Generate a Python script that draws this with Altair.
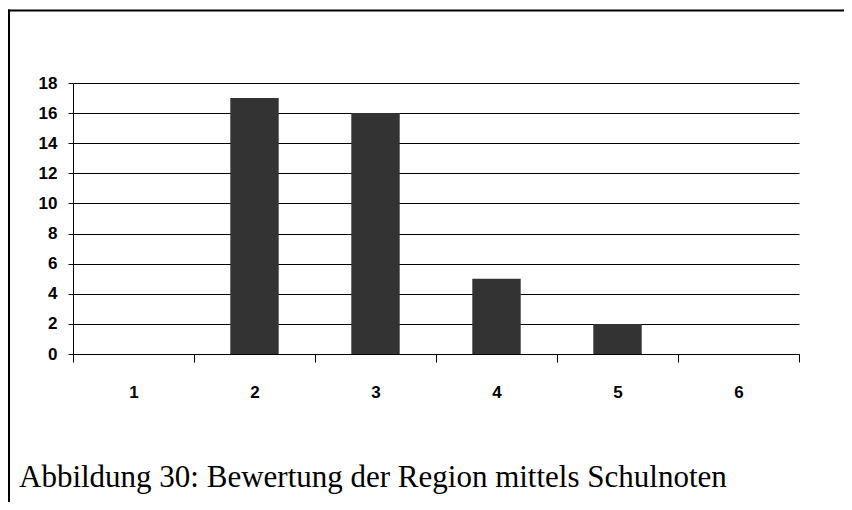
import altair as alt
import pandas as pd

grades = [1, 2, 3, 4, 5, 6]
counts = [0, 17, 16, 5, 2, 0]
caption = "Abbildung 30: Bewertung der Region mittels Schulnoten"

half = 0.2
df = pd.DataFrame({"note": grades, "anzahl": counts})
df["lo"] = df["note"] - half
df["hi"] = df["note"] + half
df["base"] = 0

tick_vals = [g - 0.5 for g in grades] + [grades[-1] + 0.5]

xscale = alt.Scale(domain=[grades[0] - 0.5, grades[-1] + 0.5], nice=False, zero=False)
W, H = 726, 271
step = W / len(grades)

bars = alt.Chart(df).mark_rect(color="#333333").encode(
    x=alt.X("lo:Q", scale=xscale, title=None,
            axis=alt.Axis(values=tick_vals, grid=False, domainColor="black", domainWidth=1,
                          tickColor="black", tickSize=8, tickWidth=1,
                          labelExpr="datum.value < 6 ? format(datum.value + 0.5, 'd') : ''",
                          labelOffset=step / 2, labelPadding=22, labelBaseline="top",
                          labelFont="Liberation Sans", labelFontWeight="bold",
                          labelFontSize=17, labelColor="black", labelFlush=False,
                          labelOverlap=False)),
    x2="hi:Q",
    y=alt.Y("anzahl:Q", scale=alt.Scale(domain=[0, 18], nice=False), title=None,
            axis=alt.Axis(values=list(range(0, 19, 2)), grid=True, gridColor="black",
                          gridWidth=1, gridOpacity=1, domainColor="black", domainWidth=1,
                          tickColor="black", tickSize=5, tickWidth=1, labelPadding=11,
                          labelFont="Liberation Sans", labelFontWeight="bold",
                          labelFontSize=17, labelColor="black")),
    y2="base:Q",
)

frame_df = pd.DataFrame({"k": [0]})
top_rule = alt.Chart(frame_df).mark_rule(color="black", strokeWidth=2).encode(
    x=alt.value(-65), x2=alt.value(771), y=alt.value(-72.5))
left_rule = alt.Chart(frame_df).mark_rule(color="black", strokeWidth=2).encode(
    x=alt.value(-64), y=alt.value(-73.5), y2=alt.value(420))

cap = alt.Chart(pd.DataFrame({"t": [caption]})).mark_text(
    font="Liberation Serif", fontSize=31, color="black", align="left",
    baseline="alphabetic").encode(
    text="t:N", x=alt.value(-54), y=alt.value(404))

chart = alt.layer(bars, top_rule, left_rule, cap).properties(
    width=W, height=H,
    padding={"left": 65, "top": 75, "right": 45, "bottom": 148},
    autosize=alt.AutoSizeParams(type="none"),
).configure_view(stroke=None)

chart.save("out.html", embed_options={"renderer": "svg", "actions": False})
